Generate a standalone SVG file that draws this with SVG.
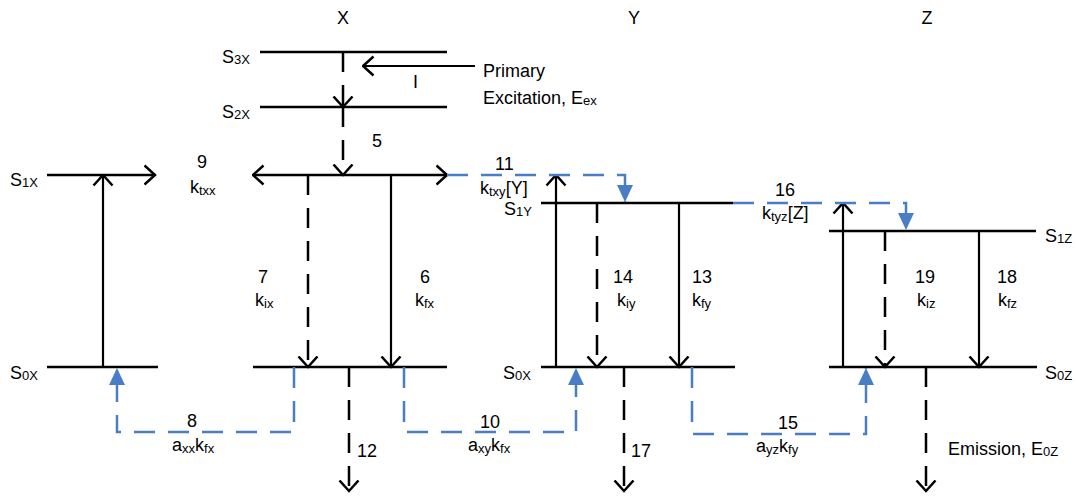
<svg xmlns="http://www.w3.org/2000/svg" width="1077" height="496" viewBox="0 0 1077 496">
<style>
text{font-family:"Liberation Sans",Arial,sans-serif;font-size:18px;fill:#000}
.sub{font-size:13px}
.lvl{stroke:#000;stroke-width:2.5;fill:none}
.sol{stroke:#000;stroke-width:2.2;fill:none;marker-end:url(#open)}
.dsh{stroke:#000;stroke-width:2.5;fill:none;stroke-dasharray:20 13;marker-end:url(#open)}
.blu{stroke:#4a7ec4;stroke-width:2.5;fill:none;stroke-dasharray:21 13;marker-end:url(#tri)}
</style>
<defs>
<marker id="open" markerUnits="userSpaceOnUse" viewBox="0 0 13 22" markerWidth="13" markerHeight="22" refX="11.5" refY="11" orient="auto">
<path d="M1,1.5 L11.5,11 L1,20.5" fill="none" stroke="#000" stroke-width="2.5"/>
</marker>
<marker id="open2" markerUnits="userSpaceOnUse" viewBox="0 0 13 22" markerWidth="13" markerHeight="22" refX="11.5" refY="11" orient="auto-start-reverse">
<path d="M1,1.5 L11.5,11 L1,20.5" fill="none" stroke="#000" stroke-width="2.5"/>
</marker>
<marker id="tri" markerUnits="userSpaceOnUse" viewBox="0 0 17 16" markerWidth="17" markerHeight="16" refX="17" refY="8" orient="auto">
<path d="M0,0 L17,8 L0,16 z" fill="#4a7ec4"/>
</marker>
</defs>

<g id="headers">
<text x="343" y="24" text-anchor="middle">X</text>
<text x="634" y="24" text-anchor="middle">Y</text>
<text x="927" y="24" text-anchor="middle">Z</text>
</g>

<g id="S3X"><line class="lvl" x1="260" y1="52" x2="447" y2="52"/><text x="222" y="63">S<tspan class="sub" dy="1">3X</tspan></text></g>
<g id="S2X"><line class="lvl" x1="260" y1="107" x2="447" y2="107"/><text x="222" y="118">S<tspan class="sub" dy="1">2X</tspan></text></g>
<g id="S1X-left"><text x="10" y="186">S<tspan class="sub" dy="1">1X</tspan></text></g>
<g id="S0X-left"><line class="lvl" x1="47" y1="367" x2="158" y2="367"/><text x="10" y="379">S<tspan class="sub" dy="1">0X</tspan></text></g>
<g id="S0X-mid"><line class="lvl" x1="253" y1="367" x2="447" y2="367"/></g>
<g id="S1Y"><line class="lvl" x1="541" y1="203" x2="733" y2="203"/><text x="504" y="215">S<tspan class="sub" dy="1">1Y</tspan></text></g>
<g id="S0X-Y"><line class="lvl" x1="541" y1="367" x2="735" y2="367"/><text x="503" y="379">S<tspan class="sub" dy="1">0X</tspan></text></g>
<g id="S1Z"><line class="lvl" x1="829" y1="231" x2="1036" y2="231"/><text x="1045" y="242">S<tspan class="sub" dy="1">1Z</tspan></text></g>
<g id="S0Z"><line class="lvl" x1="829" y1="367" x2="1037" y2="367"/><text x="1045" y="379">S<tspan class="sub" dy="1">0Z</tspan></text></g>

<g id="connectors">
<line class="dsh" x1="343" y1="52" x2="343" y2="107"/>
<line class="dsh" x1="343" y1="107" x2="343" y2="175"/>
<line class="sol" x1="475" y1="66" x2="363" y2="66"/>
<line class="sol" x1="47" y1="175" x2="155" y2="175" style="stroke-width:2.5"/>
<line class="sol" x1="103" y1="367" x2="103" y2="175"/>
<line x1="253" y1="175" x2="447" y2="175" stroke="#000" stroke-width="2.5" marker-start="url(#open2)" marker-end="url(#open)"/>
<line class="dsh" x1="308" y1="175" x2="308" y2="367"/>
<line class="sol" x1="391" y1="175" x2="391" y2="367"/>
<line class="dsh" x1="349" y1="367" x2="349" y2="491"/>
<line class="sol" x1="556" y1="367" x2="556" y2="175"/>
<line class="dsh" x1="597" y1="203" x2="597" y2="367"/>
<line class="sol" x1="679" y1="203" x2="679" y2="367"/>
<line class="dsh" x1="624" y1="367" x2="624" y2="491"/>
<line class="sol" x1="843" y1="367" x2="843" y2="203"/>
<line class="dsh" x1="885" y1="231" x2="885" y2="367"/>
<line class="sol" x1="979" y1="231" x2="979" y2="367"/>
<line class="dsh" x1="926" y1="367" x2="926" y2="491"/>
<path class="blu" d="M294,367 V432 H117 V368"/>
<path class="blu" d="M404,367 V432 H576 V368"/>
<path class="blu" d="M692,367 V434 H866 V368"/>
<path class="blu" d="M447,175 H625 V202"/>
<path class="blu" d="M733,203 H906 V230"/>
</g>

<g id="labels">
<text x="413" y="88">I</text>
<text x="483" y="77">Primary</text>
<text x="483" y="104">Excitation, E<tspan class="sub" dy="1">ex</tspan></text>
<text x="372" y="147">5</text>
<text x="197" y="168">9</text>
<text x="190" y="193">k<tspan class="sub" dy="2">txx</tspan></text>
<text x="495" y="170">11</text>
<text x="480" y="194">k<tspan class="sub" dy="2">txy</tspan><tspan dy="-2">[Y]</tspan></text>
<text x="775" y="196">16</text>
<text x="762" y="219">k<tspan class="sub" dy="2">tyz</tspan><tspan dy="-2">[Z]</tspan></text>
<text x="258" y="283">7</text>
<text x="255" y="306">k<tspan class="sub" dy="2">ix</tspan></text>
<text x="420" y="283">6</text>
<text x="415" y="306">k<tspan class="sub" dy="2">fx</tspan></text>
<text x="613" y="283">14</text>
<text x="617" y="306">k<tspan class="sub" dy="2">iy</tspan></text>
<text x="692" y="283">13</text>
<text x="692" y="306">k<tspan class="sub" dy="2">fy</tspan></text>
<text x="915" y="283">19</text>
<text x="917" y="306">k<tspan class="sub" dy="2">iz</tspan></text>
<text x="997" y="283">18</text>
<text x="998" y="306">k<tspan class="sub" dy="2">fz</tspan></text>
<text x="187" y="427">8</text>
<text x="172" y="451">a<tspan class="sub" dy="2">xx</tspan><tspan dy="-2">k</tspan><tspan class="sub" dy="2">fx</tspan></text>
<text x="480" y="428">10</text>
<text x="468" y="451">a<tspan class="sub" dy="2">xy</tspan><tspan dy="-2">k</tspan><tspan class="sub" dy="2">fx</tspan></text>
<text x="778" y="429">15</text>
<text x="756" y="452">a<tspan class="sub" dy="2">yz</tspan><tspan dy="-2">k</tspan><tspan class="sub" dy="2">fy</tspan></text>
<text x="357" y="457">12</text>
<text x="631" y="457">17</text>
<text x="948" y="455">Emission, E<tspan class="sub" dy="1">0Z</tspan></text>
</g>
</svg>
